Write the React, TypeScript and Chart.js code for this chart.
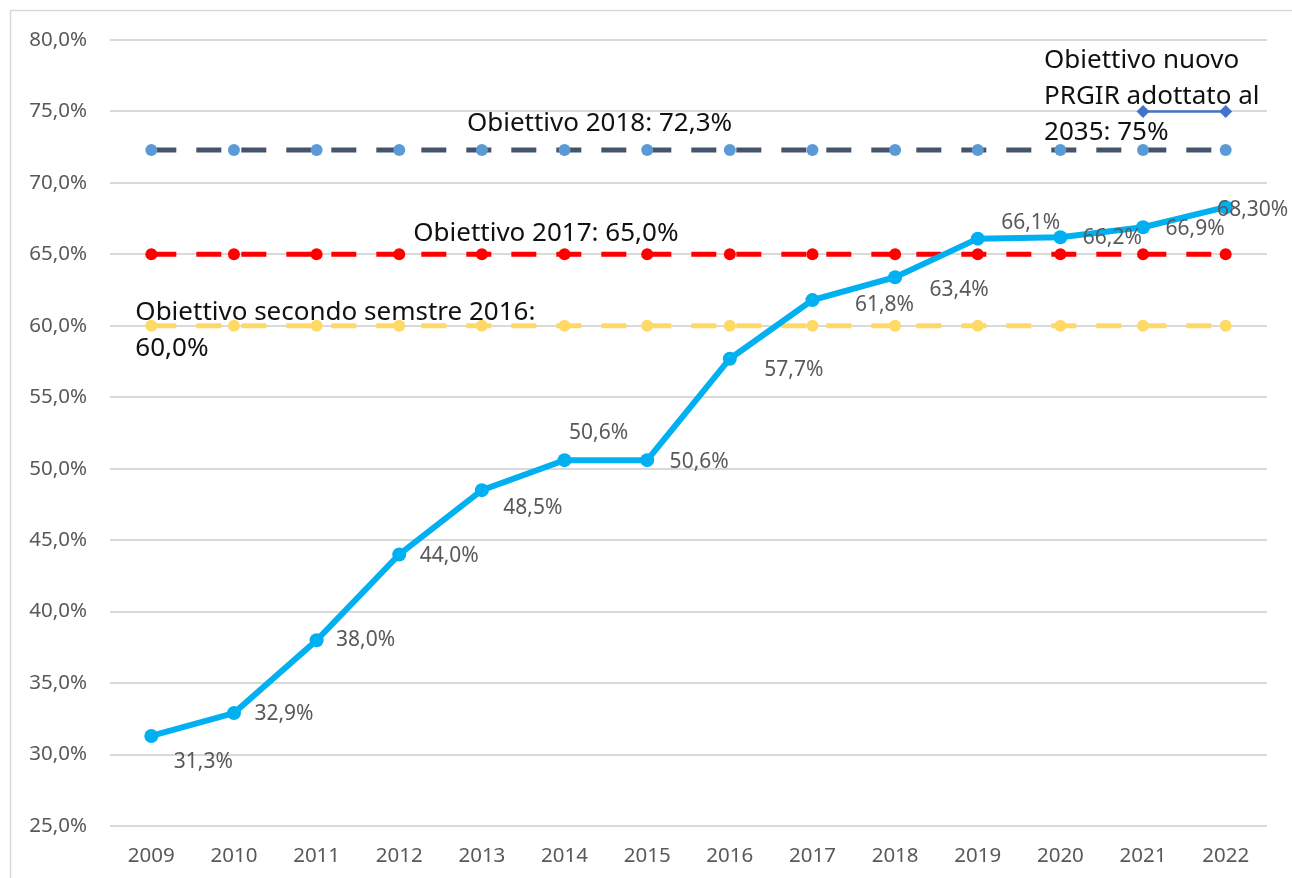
import React, { useEffect, useRef } from "react";
import { Chart, registerables } from "chart.js";

Chart.register(...registerables);

const YEARS = ["2009", "2010", "2011", "2012", "2013", "2014", "2015", "2016", "2017", "2018", "2019", "2020", "2021", "2022"];
const RACCOLTA = [31.3, 32.9, 38.0, 44.0, 48.5, 50.6, 50.6, 57.7, 61.8, 63.4, 66.1, 66.2, 66.9, 68.3];
const RACCOLTA_LABELS = ["31,3%", "32,9%", "38,0%", "44,0%", "48,5%", "50,6%", "50,6%", "57,7%", "61,8%", "63,4%", "66,1%", "66,2%", "66,9%", "68,30%"];
const OBIETTIVO_2018 = [72.3, 72.3, 72.3, 72.3, 72.3, 72.3, 72.3, 72.3, 72.3, 72.3, 72.3, 72.3, 72.3, 72.3];
const OBIETTIVO_2017 = [65, 65, 65, 65, 65, 65, 65, 65, 65, 65, 65, 65, 65, 65];
const OBIETTIVO_2016 = [60, 60, 60, 60, 60, 60, 60, 60, 60, 60, 60, 60, 60, 60];
const OBIETTIVO_2035 = [null, null, null, null, null, null, null, null, null, null, null, null, 75, 75];

const Y_MIN = 25;
const Y_MAX = 80;
const Y_STEP = 5;

// label offsets (layout, not data)
const LABEL_DX = [52, 50, 49, 50, 51, 34, 52, 64, 72, 64, 53, 52, 52, 27];
const LABEL_DY = [26, 1, 0, 2, 18, -27, 2, 11, 5, 13, -16, 1, 2, 3];

const ANNOTATIONS = [
  { lines: ["Obiettivo 2018: 72,3%"], index: 4, value: 72.3, dx: -15, dy: -26 },
  { lines: ["Obiettivo 2017: 65,0%"], index: 3, value: 65, dx: 14, dy: -21 },
  { lines: ["Obiettivo secondo semstre 2016:", "60,0%"], index: 0, value: 60, dx: -16, dy: -13 },
  { lines: ["Obiettivo nuovo", "PRGIR adottato al", "2035: 75%"], index: 12, value: 75, dx: -99, dy: -51 },
];

const FONT = "'Noto Sans', 'Open Sans', sans-serif";

const framePlugin = {
  id: "frame",
  beforeDraw(chart: any) {
    const ctx = chart.ctx;
    ctx.save();
    ctx.fillStyle = "#ffffff";
    ctx.fillRect(0, 0, chart.width, chart.height);
    ctx.strokeStyle = "#D9D9D9";
    ctx.lineWidth = 1.5;
    ctx.strokeRect(10.5, 10.5, chart.width + 100, chart.height + 100);
    ctx.restore();
  },
};

const labelPlugin = {
  id: "pointLabels",
  afterDatasetsDraw(chart: any) {
    const ctx = chart.ctx;
    const meta = chart.getDatasetMeta(0);
    ctx.save();
    ctx.font = `21px ${FONT}`;
    ctx.fillStyle = "#595959";
    ctx.textAlign = "center";
    ctx.textBaseline = "middle";
    meta.data.forEach((pt: any, i: number) => {
      ctx.fillText(RACCOLTA_LABELS[i], pt.x + LABEL_DX[i], pt.y + LABEL_DY[i]);
    });
    ctx.restore();
  },
};

const annotationPlugin = {
  id: "textAnnotations",
  afterDatasetsDraw(chart: any) {
    const ctx = chart.ctx;
    const xs = chart.scales.x;
    const ys = chart.scales.y;
    ctx.save();
    ctx.font = `26px ${FONT}`;
    ctx.fillStyle = "#111111";
    ctx.textAlign = "left";
    ctx.textBaseline = "middle";
    ANNOTATIONS.forEach((a) => {
      const x = xs.getPixelForValue(a.index) + a.dx;
      const y0 = ys.getPixelForValue(a.value) + a.dy;
      a.lines.forEach((line, k) => {
        ctx.fillText(line, x, y0 + k * 36);
      });
    });
    ctx.restore();
  },
};

export default function App() {
  const ref = useRef<HTMLCanvasElement | null>(null);

  useEffect(() => {
    if (!ref.current) return;
    const chart = new Chart(ref.current, {
      type: "line",
      data: {
        labels: YEARS,
        datasets: [
          {
            label: "Raccolta differenziata",
            data: RACCOLTA,
            borderColor: "#00B0F0",
            backgroundColor: "#00B0F0",
            borderWidth: 6,
            pointRadius: 7,
            pointBorderWidth: 0,
            pointBackgroundColor: "#00B0F0",
            tension: 0,
          },
          {
            label: "Obiettivo 2035",
            data: OBIETTIVO_2035 as any,
            borderColor: "#4472C4",
            backgroundColor: "#4472C4",
            borderWidth: 2.5,
            pointStyle: "rectRot",
            pointRadius: 6.5,
            pointBorderWidth: 0,
            pointBackgroundColor: "#4472C4",
          },
          {
            label: "Obiettivo 2018",
            data: OBIETTIVO_2018,
            borderColor: "#44546A",
            borderWidth: 5,
            borderDash: [25, 20],
            pointRadius: 6,
            pointBorderWidth: 0,
            pointBackgroundColor: "#5B9BD5",
          },
          {
            label: "Obiettivo 2017",
            data: OBIETTIVO_2017,
            borderColor: "#FF0000",
            borderWidth: 5,
            borderDash: [25, 20],
            pointRadius: 6,
            pointBorderWidth: 0,
            pointBackgroundColor: "#FF0000",
          },
          {
            label: "Obiettivo 2016",
            data: OBIETTIVO_2016,
            borderColor: "#FFD966",
            borderWidth: 5,
            borderDash: [25, 20],
            pointRadius: 6,
            pointBorderWidth: 0,
            pointBackgroundColor: "#FFD966",
          },
        ],
      },
      options: {
        animation: false,
        responsive: false,
        maintainAspectRatio: false,
        layout: { padding: { top: 40, right: 25, left: 0, bottom: 0 } },
        plugins: {
          legend: { display: false },
          tooltip: { enabled: false },
        },
        scales: {
          x: {
            offset: true,
            grid: { display: false, drawTicks: false, offset: false },
            border: { display: false },
            ticks: {
              color: "#595959",
              font: { family: FONT, size: 20.5 },
              padding: 18,
              maxRotation: 0,
            },
            afterFit: (scale: any) => {
              scale.height = 52;
            },
          },
          y: {
            min: Y_MIN,
            max: Y_MAX,
            grid: { color: "#D9D9D9", lineWidth: 2, drawTicks: false },
            border: { display: false },
            ticks: {
              stepSize: Y_STEP,
              color: "#595959",
              font: { family: FONT, size: 20.5 },
              padding: 23,
              callback: (v: any) => Number(v).toFixed(1).replace(".", ",") + "%",
            },
            afterFit: (scale: any) => {
              scale.width = 110;
            },
          },
        },
      },
      plugins: [framePlugin, labelPlugin, annotationPlugin],
    });
    return () => chart.destroy();
  }, []);

  return (
    <div style={{ position: "absolute", left: 0, top: 0, width: 1292, height: 878 }}>
      <canvas ref={ref} width={1292} height={878} style={{ display: "block" }} />
    </div>
  );
}
